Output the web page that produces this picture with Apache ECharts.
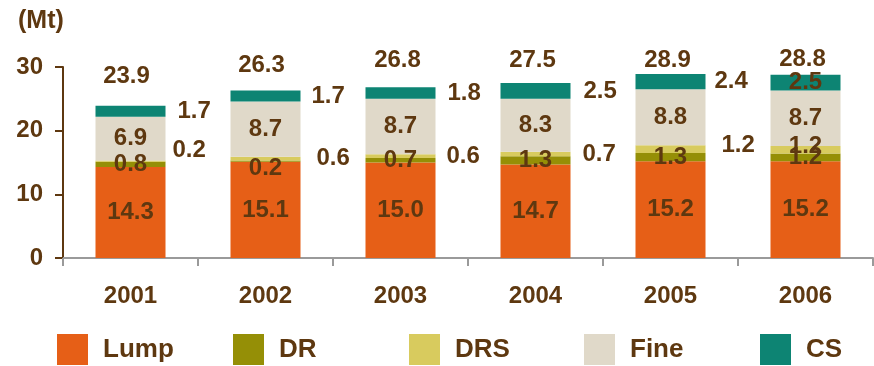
<!DOCTYPE html>
<html>
<head>
<meta charset="utf-8">
<script src="https://cdn.jsdelivr.net/npm/echarts@6/dist/echarts.min.js"></script>
<style>
  html, body { margin: 0; padding: 0; background: #ffffff; }
  #chart { width: 874px; height: 366px; }
</style>
</head>
<body>
<div id="chart"></div>
<script>
// Production by product type, Mt
const years = ['2001', '2002', '2003', '2004', '2005', '2006'];
const lump = [14.3, 15.1, 15.0, 14.7, 15.2, 15.2];
const dr   = [0.8, 0.2, 0.7, 1.3, 1.3, 1.2];
const drs  = [0.2, 0.6, 0.6, 0.7, 1.2, 1.2];
const fine = [6.9, 8.7, 8.7, 8.3, 8.8, 8.7];
const cs   = [1.7, 1.7, 1.8, 2.5, 2.4, 2.5];
const seriesNames = ['Lump', 'DR', 'DRS', 'Fine', 'CS'];

// Visual styling
const BROWN = '#5E3810';
const FONT = '"Liberation Sans", Arial, sans-serif';
const colors = {
  Lump: '#E65F17',
  DR: '#958F06',
  DRS: '#D8CB5E',
  Fine: '#E0D9C9',
  CS: '#0D8473'
};

// Label placement tweaks (pixel nudges, per year)
const csSideGap  = [12, 11, 12, 13, 9];
const drsSideGap = [7, 16, 11, 12, 16];
const drsSideDy  = [-11, 0, 0, 0, -4];
const drInsideDy = [0, 7, 0, 0, 0, 0];
const totalDy    = [-29, -25, -27, -23, -14, -15];
const totalDx    = [-4, -4, -3, -3, -3, -3];

const totals = years.map((_, i) =>
  Math.round((lump[i] + dr[i] + drs[i] + fine[i] + cs[i]) * 10) / 10);

const labelFont = {
  color: BROWN,
  fontFamily: FONT,
  fontWeight: 'bold',
  fontSize: 24,
  opacity: 1
};

function barSeries(name, values, labelFor) {
  return {
    type: 'bar',
    name: name,
    stack: 'total',
    barWidth: 70,
    itemStyle: { color: colors[name] },
    label: Object.assign({
      show: true,
      position: 'inside',
      formatter: p => Number(p.value).toFixed(1)
    }, labelFont),
    emphasis: { disabled: true },
    data: values.map((v, i) => {
      const item = { value: v };
      const l = labelFor ? labelFor(i) : null;
      if (l) item.label = l;
      return item;
    })
  };
}

// the last year has its thin segments labelled inside, the others beside the bar
const last = years.length - 1;
const series = [
  barSeries('Lump', lump),
  barSeries('DR', dr, i => drInsideDy[i] ? { offset: [0, drInsideDy[i]] } : null),
  barSeries('DRS', drs, i => i < last
    ? { position: 'right', distance: drsSideGap[i], offset: [0, drsSideDy[i]] }
    : { offset: [0, -3] }),
  barSeries('Fine', fine),
  barSeries('CS', cs, i => i < last
    ? { position: 'right', distance: csSideGap[i] }
    : null),
  {
    // invisible points carrying the stack totals above each bar
    type: 'scatter',
    name: 'Total',
    symbolSize: 1,
    itemStyle: { color: 'rgba(0,0,0,0)', opacity: 1 },
    silent: true,
    label: Object.assign({
      show: true,
      position: 'inside',
      formatter: p => Number(p.value).toFixed(1)
    }, labelFont),
    data: totals.map((t, i) => ({
      value: t,
      label: { offset: [totalDx[i], totalDy[i]] }
    }))
  }
];

// one legend box per series so the entries sit on an even pitch
const legendLeft = [57, 233, 409, 584, 760];
const legends = seriesNames.map((n, i) => ({
  data: [n],
  left: legendLeft[i],
  top: 334,
  padding: 0,
  icon: 'rect',
  itemWidth: 31,
  itemHeight: 31,
  selectedMode: false,
  textStyle: {
    color: BROWN,
    fontFamily: FONT,
    fontWeight: 'bold',
    fontSize: 26,
    padding: [0, 0, 0, 10]
  }
}));

const chart = echarts.init(document.getElementById('chart'), null, { renderer: 'canvas' });
chart.setOption({
  animation: false,
  backgroundColor: '#ffffff',
  grid: { left: 63, right: 1, top: 67, bottom: 108, containLabel: false },
  legend: legends,
  graphic: [{
    type: 'text',
    left: 18,
    top: 9,
    style: {
      text: '(Mt)',
      fill: BROWN,
      font: 'bold 25px ' + FONT
    }
  }],
  xAxis: {
    type: 'category',
    data: years,
    boundaryGap: true,
    axisLine: { show: true, lineStyle: { color: '#9A9A9A', width: 2 } },
    axisTick: { show: true, alignWithLabel: false, length: 8, lineStyle: { color: '#9A9A9A', width: 2 } },
    axisLabel: {
      margin: 26,
      color: BROWN,
      fontFamily: FONT,
      fontWeight: 'bold',
      fontSize: 24
    },
    splitLine: { show: false }
  },
  yAxis: {
    type: 'value',
    min: 0,
    max: 30,
    interval: 10,
    axisLine: { show: true, lineStyle: { color: BROWN, width: 2 } },
    axisTick: { show: true, inside: false, length: 8, lineStyle: { color: BROWN, width: 2 } },
    axisLabel: {
      margin: 20,
      color: BROWN,
      fontFamily: FONT,
      fontWeight: 'bold',
      fontSize: 24
    },
    splitLine: { show: false }
  },
  series: series
});
</script>
</body>
</html>
